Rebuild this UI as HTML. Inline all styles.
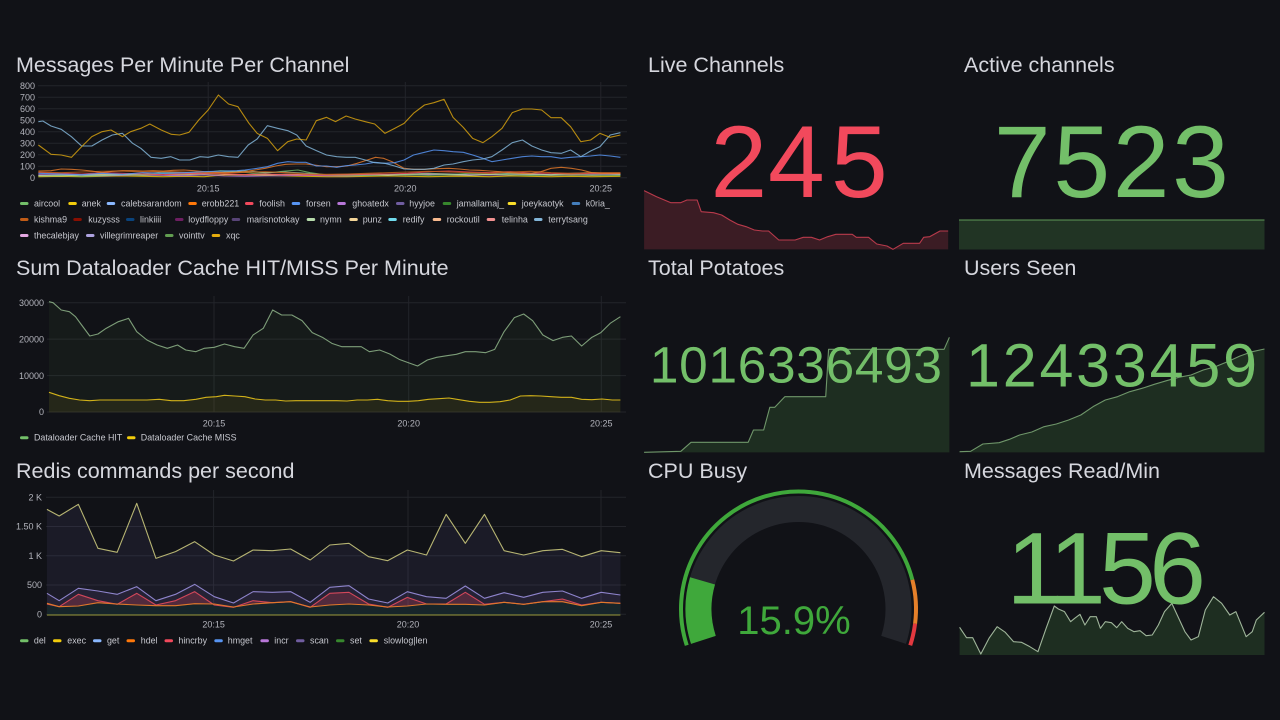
<!DOCTYPE html>
<html>
<head>
<meta charset="utf-8">
<style>
  html,body{margin:0;padding:0;background:#111217;width:1280px;height:720px;overflow:hidden;}
  svg text{font-family:"Liberation Sans",sans-serif;}
  .title{font-size:21.5px;fill:#d6d7de;}
  .tick{font-size:9px;fill:#b3b4bc;}
  .leg{font-size:8.9px;fill:#c6c7ce;}
  .grid{stroke:#23242a;stroke-width:1;}
  .ln{fill:none;stroke-width:1.1;stroke-linejoin:round;}
</style>
</head>
<body>
<svg width="1280" height="720" viewBox="0 0 1280 720" xmlns="http://www.w3.org/2000/svg" style="display:block">
<rect width="1280" height="720" fill="#111217"/>

<!-- ============ PANEL 1: Messages Per Minute Per Channel ============ -->
<text class="title" x="16" y="72">Messages Per Minute Per Channel</text>
<g class="grid">
  <line x1="38" y1="85.7" x2="627" y2="85.7"/>
  <line x1="38" y1="97.2" x2="627" y2="97.2"/>
  <line x1="38" y1="108.7" x2="627" y2="108.7"/>
  <line x1="38" y1="120.2" x2="627" y2="120.2"/>
  <line x1="38" y1="131.7" x2="627" y2="131.7"/>
  <line x1="38" y1="143.2" x2="627" y2="143.2"/>
  <line x1="38" y1="154.7" x2="627" y2="154.7"/>
  <line x1="38" y1="166.2" x2="627" y2="166.2"/>
  <line x1="38" y1="177.7" x2="627" y2="177.7"/>
  <line x1="208.2" y1="82" x2="208.2" y2="178"/>
  <line x1="405.3" y1="82" x2="405.3" y2="178"/>
  <line x1="600.8" y1="82" x2="600.8" y2="178"/>
</g>
<g class="tick" text-anchor="end">
  <text x="35" y="88.9">800</text>
  <text x="35" y="100.4">700</text>
  <text x="35" y="111.9">600</text>
  <text x="35" y="123.4">500</text>
  <text x="35" y="134.9">400</text>
  <text x="35" y="146.4">300</text>
  <text x="35" y="157.9">200</text>
  <text x="35" y="169.4">100</text>
  <text x="35" y="180.9">0</text>
</g>
<g class="tick" text-anchor="middle">
  <text x="208.2" y="191.5">20:15</text>
  <text x="405.3" y="191.5">20:20</text>
  <text x="600.8" y="191.5">20:25</text>
</g>
<g transform="translate(0,40) scale(0.408163,0.333333)">
  <polyline class="ln" vector-effect="non-scaling-stroke" stroke="#F2CC0C" stroke-opacity="0.8" points="94,410 150,409 200,410 250,409 300,408 350,409 400,410 450,409 500,410 550,405 600,404 650,406 700,408 750,409 800,410 850,410 900,409 950,408 1000,409 1050,410 1100,409 1150,409 1200,410 1250,408 1300,409 1350,410 1400,409 1450,410 1520,409"/>
  <polyline class="ln" vector-effect="non-scaling-stroke" stroke="#F4D598" stroke-opacity="0.8" points="94,406 150,404 200,405 250,403 300,404 350,406 400,405 450,404 500,402 550,403 600,405 650,404 700,403 750,404 800,405 850,404 900,405 950,406 1000,404 1050,403 1100,405 1150,406 1200,404 1250,405 1300,404 1350,406 1400,405 1450,406 1520,405"/>
  <polyline class="ln" vector-effect="non-scaling-stroke" stroke="#B877D9" stroke-opacity="0.8" points="94,404 150,405 200,406 250,408 300,406 350,404 400,406 450,407 500,405 550,408 600,409 650,408 700,407 750,406 800,407 850,408 900,406 950,404 1000,405 1050,404 1100,402 1150,404 1200,405 1250,404 1300,402 1350,404 1400,404 1450,402 1520,403"/>
  <polyline class="ln" vector-effect="non-scaling-stroke" stroke="#73BF69" stroke-opacity="0.8" points="94,408 150,406 200,409 250,407 300,404 350,405 400,400 450,402 500,398 540,392 580,394 620,400 660,398 700,393 730,390 760,398 800,405 850,407 900,406 950,405 1000,404 1050,406 1100,404 1150,400 1200,402 1250,404 1300,406 1350,405 1400,404 1450,405 1520,406"/>
  <polyline class="ln" vector-effect="non-scaling-stroke" stroke="#B7DBAB" stroke-opacity="0.7" points="94,407 150,408 200,405 250,406 300,404 350,402 400,396 450,398 500,400 550,396 600,392 650,398 700,396 750,400 800,404 850,403 900,402 950,404 1000,402 1050,400 1100,402 1150,405 1200,403 1250,400 1300,402 1350,404 1400,400 1450,398 1520,402"/>
  <polyline class="ln" vector-effect="non-scaling-stroke" stroke="#F2495C" stroke-opacity="0.8" points="94,398 150,400 200,402 250,398 300,400 350,402 400,404 450,401 500,400 550,402 600,404 650,402 700,404 750,405 800,405 850,405 900,403 950,402 1000,400 1050,395 1100,393 1150,396 1200,398 1250,395 1300,399 1350,400 1400,402 1450,400 1520,400"/>
  <polyline class="ln" vector-effect="non-scaling-stroke" stroke="#C15C17" stroke-opacity="0.85" points="94,396 150,398 200,396 250,394 300,393 350,396 400,394 450,396 500,398 550,400 600,397 650,395 700,398 750,402 800,403 850,402 900,400 950,398 1000,396 1050,394 1100,396 1150,398 1200,400 1250,396 1300,394 1350,398 1400,400 1450,398 1520,398"/>
  <polyline class="ln" vector-effect="non-scaling-stroke" stroke="#e0782a" stroke-opacity="0.85" points="94,393 125,392 150,387 175,388 200,390 225,393 250,398 275,394 300,392 325,392 350,393 375,392 400,393 425,391 450,390 475,392 500,395 525,396 550,398 575,397 600,395 625,390 650,385 675,378 700,373 725,372 750,372 775,376 800,380 825,380 850,378 875,370 900,360 920,352 940,355 960,365 990,385 1015,388 1040,388 1070,386 1100,385 1125,387 1150,390 1175,391 1200,393 1225,395 1250,398 1275,400 1300,400 1325,395 1350,385 1375,382 1400,385 1425,390 1450,398 1475,400 1500,400 1520,400"/>
  <polyline class="ln" vector-effect="non-scaling-stroke" stroke="#5794F2" stroke-opacity="0.85" points="94,400 150,402 200,404 250,400 300,403 350,398 400,400 450,398 500,395 550,393 580,392 600,390 630,385 655,380 680,370 705,365 727,367 750,367 775,378 800,378 825,382 848,377 870,375 895,372 918,367 943,370 967,368 990,360 1013,345 1040,337 1063,330 1088,332 1110,335 1135,337 1158,345 1183,355 1205,365 1230,360 1255,355 1280,350 1303,348 1327,350 1350,350 1375,355 1398,352 1423,350 1447,348 1470,345 1495,348 1520,352"/>
  <polyline class="ln" vector-effect="non-scaling-stroke" stroke="#82B5D8" stroke-opacity="0.85" points="94,245 105,243 125,258 150,268 175,290 200,318 225,318 250,300 275,285 300,280 325,310 345,325 370,352 395,355 418,350 440,360 465,360 490,350 510,352 535,345 560,350 583,352 608,315 630,297 655,257 680,265 705,272 727,285 750,318 775,332 800,345 825,350 848,352 870,352 895,360 918,368 943,370 967,378 990,387 1013,388 1040,388 1063,385 1088,375 1110,372 1135,365 1158,360 1183,357 1205,350 1230,330 1255,308 1280,300 1303,318 1327,330 1350,338 1375,340 1398,330 1423,350 1447,333 1470,320 1495,285 1520,278"/>
  <polyline class="ln" vector-effect="non-scaling-stroke" stroke="#E5AC0E" stroke-opacity="0.78" points="94,315 125,343 150,345 175,352 200,320 225,290 250,275 272,270 300,290 320,275 345,265 367,252 395,270 420,283 440,285 463,277 487,240 510,210 535,165 560,192 583,200 610,250 630,280 655,295 680,332 705,305 727,297 750,300 775,242 800,232 822,245 848,228 870,237 895,245 918,252 943,280 967,265 990,250 1013,220 1040,195 1063,188 1088,178 1110,232 1135,262 1158,295 1183,308 1205,290 1230,265 1255,218 1280,207 1303,207 1327,210 1350,233 1375,233 1398,260 1423,305 1447,300 1470,280 1495,292 1520,285"/>
</g>

<!-- legend panel 1 -->
<g>
  <rect x="20" y="202" width="8.5" height="3" rx="1.5" fill="#73BF69"/><text class="leg" x="34" y="206.5">aircool</text>
  <rect x="68.3" y="202" width="8.5" height="3" rx="1.5" fill="#F2CC0C"/><text class="leg" x="81.7" y="206.5">anek</text>
  <rect x="106.7" y="202" width="8.5" height="3" rx="1.5" fill="#8AB8FF"/><text class="leg" x="121" y="206.5">calebsarandom</text>
  <rect x="188.3" y="202" width="8.5" height="3" rx="1.5" fill="#FF780A"/><text class="leg" x="201.7" y="206.5">erobb221</text>
  <rect x="245" y="202" width="8.5" height="3" rx="1.5" fill="#F2495C"/><text class="leg" x="259.3" y="206.5">foolish</text>
  <rect x="291.7" y="202" width="8.5" height="3" rx="1.5" fill="#5794F2"/><text class="leg" x="306" y="206.5">forsen</text>
  <rect x="337.3" y="202" width="8.5" height="3" rx="1.5" fill="#B877D9"/><text class="leg" x="352.3" y="206.5">ghoatedx</text>
  <rect x="396" y="202" width="8.5" height="3" rx="1.5" fill="#705DA0"/><text class="leg" x="409.3" y="206.5">hyyjoe</text>
  <rect x="442.7" y="202" width="8.5" height="3" rx="1.5" fill="#37872D"/><text class="leg" x="456.7" y="206.5">jamallamaj_</text>
  <rect x="507.7" y="202" width="8.5" height="3" rx="1.5" fill="#FADE2A"/><text class="leg" x="521.7" y="206.5">joeykaotyk</text>
  <rect x="571.7" y="202" width="8.5" height="3" rx="1.5" fill="#447EBC"/><text class="leg" x="585.7" y="206.5">k0ria_</text>

  <rect x="20" y="218" width="8.5" height="3" rx="1.5" fill="#C15C17"/><text class="leg" x="34" y="222.5">kishma9</text>
  <rect x="73.3" y="218" width="8.5" height="3" rx="1.5" fill="#890F02"/><text class="leg" x="88.3" y="222.5">kuzysss</text>
  <rect x="126" y="218" width="8.5" height="3" rx="1.5" fill="#0A437C"/><text class="leg" x="140" y="222.5">linkiiii</text>
  <rect x="175" y="218" width="8.5" height="3" rx="1.5" fill="#6D1F62"/><text class="leg" x="188.3" y="222.5">loydfloppy</text>
  <rect x="231.7" y="218" width="8.5" height="3" rx="1.5" fill="#584477"/><text class="leg" x="246.7" y="222.5">marisnotokay</text>
  <rect x="306.7" y="218" width="8.5" height="3" rx="1.5" fill="#B7DBAB"/><text class="leg" x="320" y="222.5">nymn</text>
  <rect x="349.3" y="218" width="8.5" height="3" rx="1.5" fill="#F4D598"/><text class="leg" x="362.7" y="222.5">punz</text>
  <rect x="388.3" y="218" width="8.5" height="3" rx="1.5" fill="#70DBED"/><text class="leg" x="402.7" y="222.5">redify</text>
  <rect x="432.7" y="218" width="8.5" height="3" rx="1.5" fill="#F9BA8F"/><text class="leg" x="446.7" y="222.5">rockoutil</text>
  <rect x="486.7" y="218" width="8.5" height="3" rx="1.5" fill="#F29191"/><text class="leg" x="501.7" y="222.5">telinha</text>
  <rect x="534" y="218" width="8.5" height="3" rx="1.5" fill="#82B5D8"/><text class="leg" x="548.3" y="222.5">terrytsang</text>

  <rect x="20" y="234" width="8.5" height="3" rx="1.5" fill="#E5A8E2"/><text class="leg" x="34" y="238.5">thecalebjay</text>
  <rect x="86" y="234" width="8.5" height="3" rx="1.5" fill="#AEA2E0"/><text class="leg" x="100" y="238.5">villegrimreaper</text>
  <rect x="165" y="234" width="8.5" height="3" rx="1.5" fill="#629E51"/><text class="leg" x="179" y="238.5">vointtv</text>
  <rect x="211.7" y="234" width="8.5" height="3" rx="1.5" fill="#E5AC0E"/><text class="leg" x="226" y="238.5">xqc</text>
</g>

<!-- ============ PANEL 2: Dataloader ============ -->
<text class="title" x="16" y="275">Sum Dataloader Cache HIT/MISS Per Minute</text>
<g class="grid">
  <line x1="47" y1="302.7" x2="626" y2="302.7"/>
  <line x1="47" y1="339.1" x2="626" y2="339.1"/>
  <line x1="47" y1="375.6" x2="626" y2="375.6"/>
  <line x1="47" y1="412" x2="626" y2="412"/>
  <line x1="214" y1="296" x2="214" y2="412"/>
  <line x1="408.7" y1="296" x2="408.7" y2="412"/>
  <line x1="601.3" y1="296" x2="601.3" y2="412"/>
</g>
<g class="tick" text-anchor="end">
  <text x="44" y="305.9">30000</text>
  <text x="44" y="342.3">20000</text>
  <text x="44" y="378.8">10000</text>
  <text x="44" y="415.2">0</text>
</g>
<g class="tick" text-anchor="middle">
  <text x="214" y="426.5">20:15</text>
  <text x="408.7" y="426.5">20:20</text>
  <text x="601.3" y="426.5">20:25</text>
</g>
<g transform="translate(0,250) scale(0.408163,0.333333)">
  <polygon fill="#73BF69" fill-opacity="0.05" points="120,155 130,158 150,180 170,185 185,200 200,225 220,258 240,252 260,235 290,215 315,205 335,245 360,270 385,285 410,295 435,285 455,300 480,305 500,295 525,292 550,282 575,290 598,295 620,255 645,235 668,180 690,195 715,195 740,212 765,248 790,262 813,280 837,290 860,290 885,290 905,305 930,300 955,312 978,328 1000,338 1023,348 1047,330 1070,322 1095,317 1118,313 1140,305 1165,305 1190,308 1212,298 1235,245 1260,203 1283,192 1305,212 1330,255 1355,272 1378,262 1400,258 1425,288 1450,262 1472,248 1495,220 1520,200 1520,487 120,487"/>
  <polygon fill="#F2CC0C" fill-opacity="0.07" points="120,427 145,437 170,445 195,450 220,452 245,450 270,450 300,450 330,450 360,450 390,448 420,452 450,452 480,448 505,442 530,440 550,436 575,438 600,440 625,447 650,450 675,450 700,453 725,452 750,452 775,452 800,452 825,452 850,453 875,450 900,450 925,448 950,452 975,454 1000,454 1025,452 1050,448 1075,446 1100,444 1125,449 1150,454 1175,457 1200,457 1225,455 1250,450 1275,438 1300,437 1325,438 1350,440 1375,442 1400,442 1425,448 1450,449 1475,447 1500,450 1520,450 1520,487 120,487"/>
  <polyline class="ln" vector-effect="non-scaling-stroke" stroke="#8fb58a" stroke-opacity="0.85" points="120,155 130,158 150,180 170,185 185,200 200,225 220,258 240,252 260,235 290,215 315,205 335,245 360,270 385,285 410,295 435,285 455,300 480,305 500,295 525,292 550,282 575,290 598,295 620,255 645,235 668,180 690,195 715,195 740,212 765,248 790,262 813,280 837,290 860,290 885,290 905,305 930,300 955,312 978,328 1000,338 1023,348 1047,330 1070,322 1095,317 1118,313 1140,305 1165,305 1190,308 1212,298 1235,245 1260,203 1283,192 1305,212 1330,255 1355,272 1378,262 1400,258 1425,288 1450,262 1472,248 1495,220 1520,200"/>
  <polyline class="ln" vector-effect="non-scaling-stroke" stroke="#e6c21a" stroke-width="1.4" stroke-opacity="0.9" points="120,427 145,437 170,445 195,450 220,452 245,450 270,450 300,450 330,450 360,450 390,448 420,452 450,452 480,448 505,442 530,440 550,436 575,438 600,440 625,447 650,450 675,450 700,453 725,452 750,452 775,452 800,452 825,452 850,453 875,450 900,450 925,448 950,452 975,454 1000,454 1025,452 1050,448 1075,446 1100,444 1125,449 1150,454 1175,457 1200,457 1225,455 1250,450 1275,438 1300,437 1325,438 1350,440 1375,442 1400,442 1425,448 1450,449 1475,447 1500,450 1520,450"/>
</g>
<g>
  <rect x="20" y="436.2" width="8.5" height="3" rx="1.5" fill="#73BF69"/><text class="leg" x="34" y="440.7">Dataloader Cache HIT</text>
  <rect x="127" y="436.2" width="8.5" height="3" rx="1.5" fill="#F2CC0C"/><text class="leg" x="140.8" y="440.7">Dataloader Cache MISS</text>
</g>

<!-- ============ PANEL 3: Redis ============ -->
<text class="title" x="16" y="478">Redis commands per second</text>
<g class="grid">
  <line x1="46" y1="497.3" x2="626" y2="497.3"/>
  <line x1="46" y1="526.5" x2="626" y2="526.5"/>
  <line x1="46" y1="555.8" x2="626" y2="555.8"/>
  <line x1="46" y1="585" x2="626" y2="585"/>
  <line x1="46" y1="614.3" x2="626" y2="614.3"/>
  <line x1="213.6" y1="490" x2="213.6" y2="614"/>
  <line x1="408" y1="490" x2="408" y2="614"/>
  <line x1="601" y1="490" x2="601" y2="614"/>
</g>
<g class="tick" text-anchor="end">
  <text x="42" y="500.5">2 K</text>
  <text x="42" y="529.7">1.50 K</text>
  <text x="42" y="559">1 K</text>
  <text x="42" y="588.2">500</text>
  <text x="42" y="617.5">0</text>
</g>
<g class="tick" text-anchor="middle">
  <text x="213.6" y="627.5">20:15</text>
  <text x="408" y="627.5">20:20</text>
  <text x="601" y="627.5">20:25</text>
</g>
<g transform="translate(0,455) scale(0.408163,0.333333)">
  <polygon fill="#8a7fd0" fill-opacity="0.09" points="115,163 145,183 192,148 240,280 287,292 335,145 382,310 430,290 477,260 525,300 572,318 620,285 667,287 712,282 760,315 808,270 855,265 903,305 950,317 998,285 1045,300 1093,178 1140,265 1187,178 1235,287 1283,300 1330,287 1378,283 1425,305 1473,287 1520,293 1520,480 115,480"/>
  <polygon fill="#705DA0" fill-opacity="0.12" points="115,415 145,437 192,400 240,408 287,418 335,395 382,437 430,418 477,388 525,425 572,444 620,410 667,412 712,410 760,442 808,397 855,392 903,432 950,444 998,410 1045,425 1093,430 1140,393 1187,430 1235,413 1283,427 1330,412 1378,408 1425,430 1473,412 1520,420 1520,480 115,480"/>
  <polygon fill="#F2495C" fill-opacity="0.22" points="115,447 145,455 192,418 240,437 287,448 335,415 382,450 430,437 477,410 525,450 572,457 620,437 667,443 712,440 760,457 808,415 855,412 903,447 950,457 998,427 1045,447 1093,447 1140,412 1187,448 1235,442 1283,448 1330,440 1378,432 1425,450 1473,442 1520,445 1520,480 115,480"/>
  <polygon fill="#17252a" points="115,449 145,456 192,454 240,445 287,449 335,451 382,453 430,453 477,448 525,449 572,457 620,449 667,445 712,442 760,457 808,451 855,448 903,451 950,457 998,454 1045,448 1093,449 1140,449 1187,451 1235,444 1283,449 1330,442 1378,442 1425,453 1473,444 1520,446 1520,480 115,480"/>
  <polyline class="ln" vector-effect="non-scaling-stroke" stroke="#c9c67c" stroke-opacity="0.9" points="115,163 145,183 192,148 240,280 287,292 335,145 382,310 430,290 477,260 525,300 572,318 620,285 667,287 712,282 760,315 808,270 855,265 903,305 950,317 998,285 1045,300 1093,178 1140,265 1187,178 1235,287 1283,300 1330,287 1378,283 1425,305 1473,287 1520,293"/>
  <polyline class="ln" vector-effect="non-scaling-stroke" stroke="#8e84cc" points="115,415 145,437 192,400 240,408 287,418 335,395 382,437 430,418 477,388 525,425 572,444 620,410 667,412 712,410 760,442 808,397 855,392 903,432 950,444 998,410 1045,425 1093,430 1140,393 1187,430 1235,413 1283,427 1330,412 1378,408 1425,430 1473,412 1520,420"/>
  <polyline class="ln" vector-effect="non-scaling-stroke" stroke="#d2475a" points="115,447 145,455 192,418 240,437 287,448 335,415 382,450 430,437 477,410 525,450 572,457 620,437 667,443 712,440 760,457 808,415 855,412 903,447 950,457 998,427 1045,447 1093,447 1140,412 1187,448 1235,442 1283,448 1330,440 1378,432 1425,450 1473,442 1520,445"/>
  <polyline class="ln" vector-effect="non-scaling-stroke" stroke="#e0782a" points="115,445 145,455 192,453 240,443 287,447 335,450 382,452 430,452 477,446 525,447 572,456 620,447 667,443 712,440 760,456 808,450 855,447 903,450 950,456 998,453 1045,447 1093,448 1140,448 1187,450 1235,442 1283,448 1330,440 1378,440 1425,452 1473,442 1520,445"/>
  <polyline class="ln" vector-effect="non-scaling-stroke" stroke="#9c9a3c" stroke-width="2" points="115,480 1520,480"/>
</g>
<g>
  <rect x="20" y="639.2" width="8.5" height="3" rx="1.5" fill="#73BF69"/><text class="leg" x="33.9" y="643.7">del</text>
  <rect x="53" y="639.2" width="8.5" height="3" rx="1.5" fill="#F2CC0C"/><text class="leg" x="67.3" y="643.7">exec</text>
  <rect x="93" y="639.2" width="8.5" height="3" rx="1.5" fill="#8AB8FF"/><text class="leg" x="107" y="643.7">get</text>
  <rect x="126.5" y="639.2" width="8.5" height="3" rx="1.5" fill="#FF780A"/><text class="leg" x="140.8" y="643.7">hdel</text>
  <rect x="164.5" y="639.2" width="8.5" height="3" rx="1.5" fill="#F2495C"/><text class="leg" x="178.4" y="643.7">hincrby</text>
  <rect x="214.3" y="639.2" width="8.5" height="3" rx="1.5" fill="#5794F2"/><text class="leg" x="227.8" y="643.7">hmget</text>
  <rect x="260.4" y="639.2" width="8.5" height="3" rx="1.5" fill="#B877D9"/><text class="leg" x="274.3" y="643.7">incr</text>
  <rect x="296" y="639.2" width="8.5" height="3" rx="1.5" fill="#705DA0"/><text class="leg" x="310" y="643.7">scan</text>
  <rect x="336" y="639.2" width="8.5" height="3" rx="1.5" fill="#37872D"/><text class="leg" x="350" y="643.7">set</text>
  <rect x="369.4" y="639.2" width="8.5" height="3" rx="1.5" fill="#FADE2A"/><text class="leg" x="383.7" y="643.7">slowlog|len</text>
</g>

<!-- ============ RIGHT: Live Channels ============ -->
<text class="title" x="648" y="72">Live Channels</text>
<g transform="translate(640,40) scale(0.408163,0.333333)">
  <polygon fill="#3b1c24" points="10,452 40,470 75,488 100,488 115,480 140,480 150,515 180,518 200,525 220,540 240,553 260,560 280,570 300,573 315,573 340,600 380,600 400,592 420,592 440,600 460,590 480,583 520,583 530,592 560,592 580,612 605,618 620,628 645,610 685,610 695,592 710,590 735,573 755,573 755,628 10,628"/>
  <polyline class="ln" vector-effect="non-scaling-stroke" stroke="#b83a4b" points="10,452 40,470 75,488 100,488 115,480 140,480 150,515 180,518 200,525 220,540 240,553 260,560 280,570 300,573 315,573 340,600 380,600 400,592 420,592 440,600 460,590 480,583 520,583 530,592 560,592 580,612 605,618 620,628 645,610 685,610 695,592 710,590 735,573 755,573"/>
</g>
<text x="710.5 768 831" y="197" font-size="102" fill="#F2495C">245</text>

<!-- Active channels -->
<text class="title" x="964" y="72">Active channels</text>
<rect x="959" y="220" width="305.5" height="29.5" fill="#213424"/>
<line x1="959" y1="220" x2="1264.5" y2="220" stroke="#5e9a57" stroke-width="1"/>
<text x="993.9" y="197" font-size="102" letter-spacing="2.7" fill="#73BF69">7523</text>

<!-- Total Potatoes -->
<text class="title" x="648" y="275">Total Potatoes</text>
<g transform="translate(640,250) scale(0.408163,0.333333)">
  <polygon fill="#1e2e21" points="10,607 100,604 125,577 265,577 278,540 303,540 318,472 330,472 355,440 455,440 462,298 745,298 758,262 758,607"/>
  <polyline class="ln" vector-effect="non-scaling-stroke" stroke="#6f966a" points="10,607 100,604 125,577 265,577 278,540 303,540 318,472 330,472 355,440 455,440 462,298 745,298 758,262"/>
</g>
<text x="649.9" y="382.7" font-size="51.4" letter-spacing="0.7" fill="#73BF69">1016336493</text>

<!-- Users Seen -->
<text class="title" x="964" y="275">Users Seen</text>
<g transform="translate(640,250) scale(0.408163,0.333333)">
  <polygon fill="#1e2e21" points="783,605 810,604 840,582 880,578 905,568 930,555 960,546 990,530 1020,522 1050,510 1080,495 1110,470 1140,450 1170,440 1200,425 1230,415 1260,403 1290,392 1320,382 1350,375 1380,360 1410,350 1440,335 1470,318 1500,305 1530,297 1530,607 783,607"/>
  <polyline class="ln" vector-effect="non-scaling-stroke" stroke="#6f966a" points="783,605 810,604 840,582 880,578 905,568 930,555 960,546 990,530 1020,522 1050,510 1080,495 1110,470 1140,450 1170,440 1200,425 1230,415 1260,403 1290,392 1320,382 1350,375 1380,360 1410,350 1440,335 1470,318 1500,305 1530,297"/>
</g>
<text x="966" y="386.7" font-size="61" letter-spacing="2.8" fill="#73BF69">12433459</text>

<!-- CPU Busy gauge -->
<text class="title" x="648" y="478">CPU Busy</text>
<path d="M 703.39 639.9 A 100 100 0 1 1 893.61 639.9" fill="none" stroke="#24262c" stroke-width="26"/>
<path d="M 703.39 639.9 A 100 100 0 0 1 702.54 580.86" fill="none" stroke="#3fa83b" stroke-width="26"/>
<path d="M 686.75 645.31 A 117.5 117.5 0 1 1 912.31 579.78" fill="none" stroke="#3fa83b" stroke-width="4"/>
<path d="M 912.31 579.78 A 117.5 117.5 0 0 1 915.07 623.73" fill="none" stroke="#e5802a" stroke-width="4"/>
<path d="M 915.07 623.73 A 117.5 117.5 0 0 1 910.25 645.31" fill="none" stroke="#e2383f" stroke-width="4"/>
<text x="737.3" y="634" font-size="40" fill="#3fa83b">15.9%</text>

<!-- Messages Read/Min -->
<text class="title" x="964" y="478">Messages Read/Min</text>
<g transform="translate(640,455) scale(0.408163,0.333333)">
  <polygon fill="#1e2e21" points="783,517 800,548 815,548 835,597 855,550 875,515 895,532 915,560 935,562 955,575 975,590 995,520 1015,453 1025,462 1040,470 1055,500 1065,490 1078,478 1090,510 1103,485 1118,485 1128,520 1140,500 1155,503 1168,518 1180,500 1195,520 1210,530 1225,527 1240,542 1255,540 1270,510 1285,470 1303,445 1318,485 1335,530 1350,555 1368,545 1385,465 1405,425 1425,445 1445,480 1460,470 1470,500 1485,545 1500,530 1510,495 1530,472 1530,600 783,600"/>
  <polyline class="ln" vector-effect="non-scaling-stroke" stroke="#9fb59a" points="783,517 800,548 815,548 835,597 855,550 875,515 895,532 915,560 935,562 955,575 975,590 995,520 1015,453 1025,462 1040,470 1055,500 1065,490 1078,478 1090,510 1103,485 1118,485 1128,520 1140,500 1155,503 1168,518 1180,500 1195,520 1210,530 1225,527 1240,542 1255,540 1270,510 1285,470 1303,445 1318,485 1335,530 1350,555 1368,545 1385,465 1405,425 1425,445 1445,480 1460,470 1470,500 1485,545 1500,530 1510,495 1530,472"/>
</g>
<text x="1006.4" y="603.3" font-size="102" letter-spacing="-6.6" fill="#73BF69">1156</text>

</svg>
</body>
</html>
